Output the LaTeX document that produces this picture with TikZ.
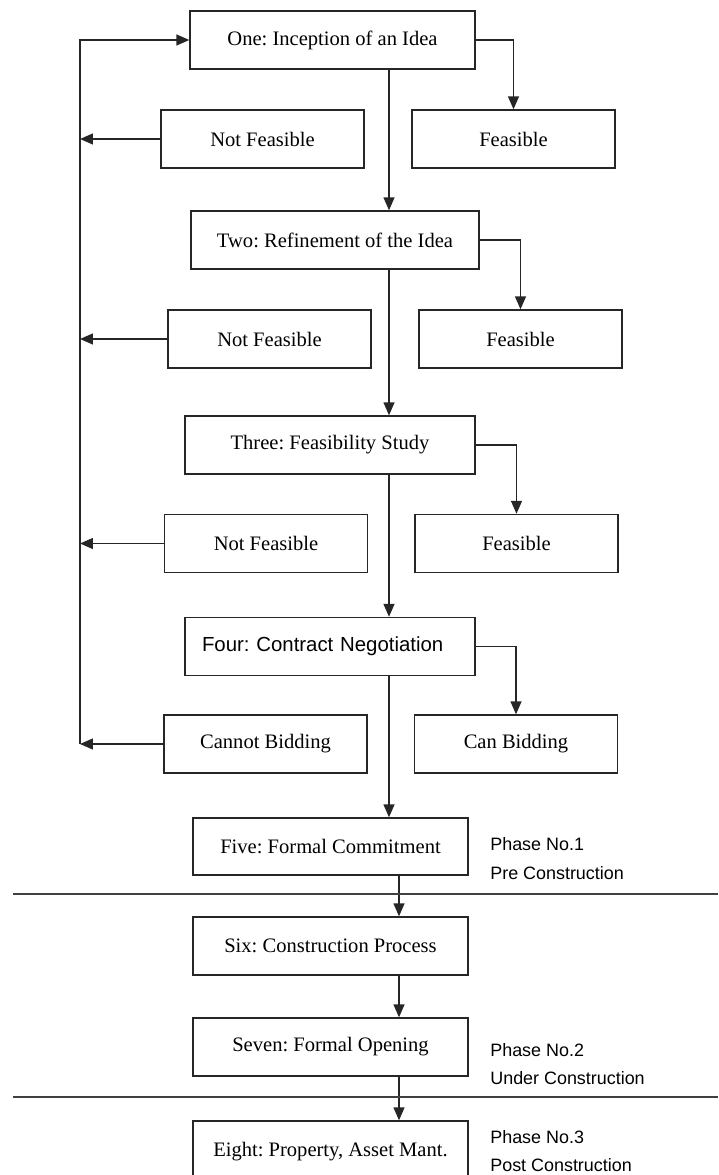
\documentclass[tikz,border=0pt]{standalone}
\usepackage{fontspec}
\setmainfont{Liberation Serif}
\newfontfamily\arialfont{Liberation Sans}
\usetikzlibrary{arrows.meta}
\frenchspacing
\tikzset{
  stage/.style={draw=black!85, line width=0.8pt, minimum height=1.16cm, inner sep=0pt,
    font=\fontsize{11.7}{14}\selectfont},
  outcome/.style={stage, minimum width=4.06cm},
  flow/.style={draw=black!85, line width=0.8pt, -{Triangle[length=0.26cm,width=0.22cm]}},
  divider/.style={draw=black!75, line width=0.8pt},
  phase/.style={anchor=west, align=left, inner sep=0pt,
    font=\arialfont\fontsize{10.2}{16.4}\selectfont},
}
\begin{document}
\begin{tikzpicture}[x=0.02cm, y=-0.02cm]
\useasboundingbox (0,0) rectangle (718,1175);
\coordinate (trunk) at (389,0);
\coordinate (trunkB) at (399,0);
\coordinate (loop) at (80,0);

% stages
\node[stage, minimum width=5.7cm] (one) at (332.5,40) {One: Inception of an Idea};
\node[stage, minimum width=5.76cm] (two) at (335,240) {Two: Refinement of the Idea};
\node[stage, minimum width=5.8cm] (three) at (330,445) {Three: Feasibility Study};
\node[stage, minimum width=5.8cm, text width=5.12cm, align=left,
  font=\arialfont\fontsize{11.6}{14}\selectfont] (four) at (330,646.5) {Four: Contract Negotiation};
\node[stage, minimum width=5.5cm, minimum height=1.14cm] (five) at (330.5,846.5) {Five: Formal Commitment};
\node[stage, minimum width=5.5cm] (six) at (330.5,946) {Six: Construction Process};
\node[stage, minimum width=5.5cm] (seven) at (330.5,1047) {Seven: Formal Opening};
\node[stage, minimum width=5.5cm, minimum height=1.24cm] (eight) at (330.5,1152) {Eight: Property, Asset Mant.};

% outcomes
\node[outcome] (notA) at (262.5,139) {Not Feasible};
\node[outcome] (feasA) at (513.5,139) {Feasible};
\node[outcome] (notB) at (269.5,339) {Not Feasible};
\node[outcome] (feasB) at (520.5,339) {Feasible};
\node[outcome] (notC) at (266,543.5) {Not Feasible};
\node[outcome] (feasC) at (516.5,543.5) {Feasible};
\node[outcome] (cannot) at (265.5,744) {Cannot Bidding};
\node[outcome] (can) at (516,744) {Can Bidding};

% main flow
\draw[flow] (one.south -| trunk) -- (two.north -| trunk);
\draw[flow] (two.south -| trunk) -- (three.north -| trunk);
\draw[flow] (three.south -| trunk) -- (four.north -| trunk);
\draw[flow] (four.south -| trunk) -- (five.north -| trunk);
\draw[flow] (five.south -| trunkB) -- (six.north -| trunkB);
\draw[flow] (six.south -| trunkB) -- (seven.north -| trunkB);
\draw[flow] (seven.south -| trunkB) -- (eight.north -| trunkB);

% feasible branches
\draw[flow] (one.east) -| (feasA.north);
\draw[flow] (two.east) -| (feasB.north);
\draw[flow] (three.east) -| (feasC.north);
\draw[flow] (four.east) -| (can.north);

% back to the start
\draw[flow] (notA.west) -- (notA.west -| loop);
\draw[flow] (notB.west) -- (notB.west -| loop);
\draw[flow] (notC.west) -- (notC.west -| loop);
\draw[flow] (cannot.west) -- (cannot.west -| loop);
\draw[flow] (cannot.west -| loop) |- (one.west);

% phases
\draw[divider] (13,894) -- (718,894);
\draw[divider] (13,1097) -- (718,1097);
\node[phase] (phaseA) at (490,858.5) {Phase No.1\\Pre Construction};
\node[phase] (phaseB) at (490,1064) {Phase No.2\\Under Construction};
\node[phase] (phaseC) at (490,1151) {Phase No.3\\Post Construction};
\end{tikzpicture}
\end{document}
